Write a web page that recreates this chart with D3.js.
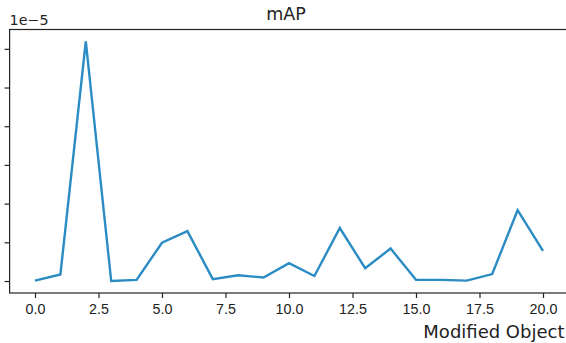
<!DOCTYPE html>
<html>
<head>
<meta charset="utf-8">
<script src="https://cdn.jsdelivr.net/npm/d3@7"></script>
<style>
  html, body { margin: 0; padding: 0; background: #fff; overflow: hidden; }
  svg { display: block; font-family: "DejaVu Sans", sans-serif; }
</style>
</head>
<body>
<div id="chart"></div>
<script>
// modified object index and mAP (x 1e-5)
const objects = d3.range(0, 21);
const mapValues = [0.01, 0.17, 6.19, 0.00, 0.03, 0.99, 1.29, 0.05, 0.15, 0.09, 0.46,
                   0.13, 1.37, 0.33, 0.84, 0.03, 0.03, 0.01, 0.18, 1.83, 0.78];
const xTicks = [0, 2.5, 5, 7.5, 10, 12.5, 15, 17.5, 20];
const yTicks = [0, 1, 2, 3, 4, 5, 6];

const W = 566, H = 343;
// axes box (right edge falls just outside the window)
const box = { left: 9.6, top: 29.5, right: 568.4, bottom: 293 };

const svg = d3.select('#chart').append('svg')
  .attr('width', W)
  .attr('height', H);

// matplotlib style 5% margins
const xr = d3.extent(objects), yr = d3.extent(mapValues);
const xm = (xr[1] - xr[0]) * 0.05, ym = (yr[1] - yr[0]) * 0.05;

const x = d3.scaleLinear()
  .domain([xr[0] - xm, xr[1] + xm])
  .range([box.left, box.right]);
const y = d3.scaleLinear()
  .domain([yr[0] - ym, yr[1] + ym])
  .range([box.bottom, box.top]);

const xAxis = svg.append('g')
  .attr('transform', `translate(0,${box.bottom})`)
  .call(d3.axisBottom(x).tickValues(xTicks).tickFormat(d3.format('.1f')).tickSize(5).tickPadding(6));
const yAxis = svg.append('g')
  .attr('transform', `translate(${box.left},0)`)
  .call(d3.axisLeft(y).tickValues(yTicks).tickFormat(d3.format('d')).tickSize(5).tickPadding(6));

[xAxis, yAxis].forEach(g => {
  g.select('.domain').remove();
  g.selectAll('line').attr('stroke', '#222').attr('stroke-width', 1.2);
  g.selectAll('text').style('font-size', '14.3px').attr('fill', '#222');
});

// frame
svg.append('rect')
  .attr('x', box.left)
  .attr('y', box.top)
  .attr('width', box.right - box.left)
  .attr('height', box.bottom - box.top)
  .attr('fill', 'none')
  .attr('stroke', '#222')
  .attr('stroke-width', 1.2);

const line = d3.line()
  .x((d, i) => x(objects[i]))
  .y(d => y(d));

svg.append('path')
  .datum(mapValues)
  .attr('d', line)
  .attr('fill', 'none')
  .attr('stroke', '#2b8cc4')
  .attr('stroke-width', 2.4)
  .attr('stroke-linejoin', 'miter')
  .attr('stroke-linecap', 'butt');

// texts
svg.append('text')
  .attr('x', (box.left + box.right) / 2 - 3)
  .attr('y', 20)
  .attr('text-anchor', 'middle')
  .style('font-size', '17.5px')
  .attr('fill', '#222')
  .text('mAP');

svg.append('text')
  .attr('x', box.left)
  .attr('y', 24.5)
  .style('font-size', '14.3px')
  .attr('fill', '#222')
  .text('1e\u22125');

svg.append('text')
  .attr('x', 564.5)
  .attr('y', 338)
  .attr('text-anchor', 'end')
  .style('font-size', '18px')
  .attr('fill', '#222')
  .text('Modified Object');
</script>
</body>
</html>
